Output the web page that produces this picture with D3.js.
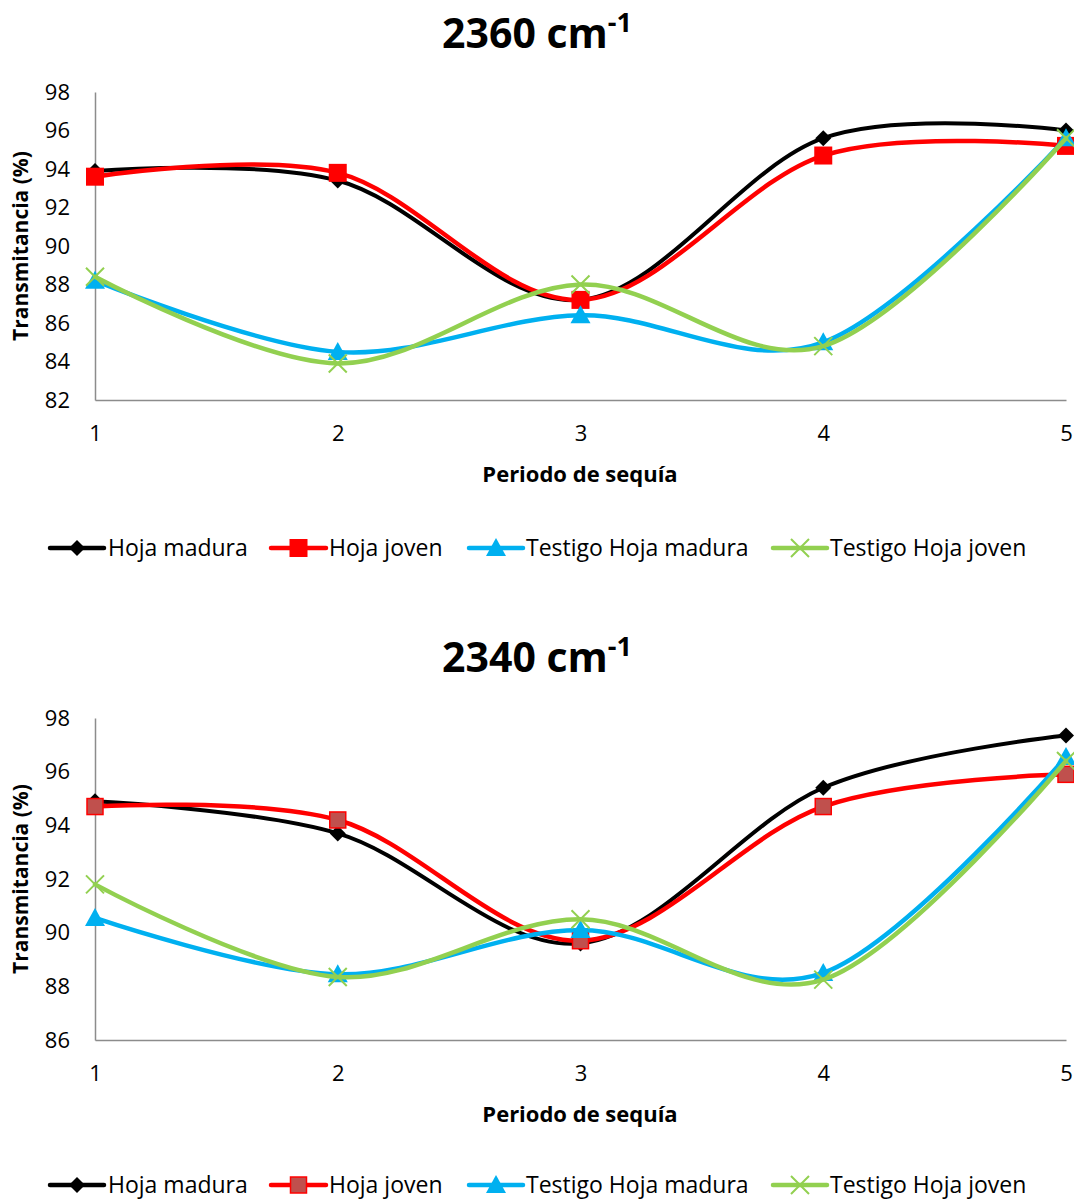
<!DOCTYPE html>
<html><head><meta charset="utf-8">
<script src="https://cdn.jsdelivr.net/npm/d3@7"></script>
<style>body{margin:0;background:#fff}svg{display:block;font-family:"Open Sans","Noto Sans",sans-serif}</style>
</head><body>
<svg id="c" width="1074" height="1201"></svg>
<script>
const periods = [1, 2, 3, 4, 5];
const seriesNames = ["Hoja madura", "Hoja joven", "Testigo Hoja madura", "Testigo Hoja joven"];
// 2360 cm-1
const top_hojaMadura = [93.9, 93.4, 87.2, 95.6, 96.0];
const top_hojaJoven = [93.6, 93.8, 87.2, 94.7, 95.2];
const top_testigoMadura = [88.2, 84.5, 86.4, 85.0, 95.6];
const top_testigoJoven = [88.4, 83.9, 88.0, 84.8, 95.6];
const top_yTicks = [82, 84, 86, 88, 90, 92, 94, 96, 98];
// 2340 cm-1
const bot_hojaMadura = [94.9, 93.7, 89.6, 95.4, 97.35];
const bot_hojaJoven = [94.7, 94.2, 89.7, 94.7, 95.9];
const bot_testigoMadura = [90.55, 88.45, 90.1, 88.5, 96.55];
const bot_testigoJoven = [91.8, 88.35, 90.5, 88.25, 96.4];
const bot_yTicks = [86, 88, 90, 92, 94, 96, 98];

const svg = d3.select("#c");
const styles = [
  {color:"#000000", marker:"diamond"},
  {color:"#FF0000", marker:"square"},
  {color:"#00B0F0", marker:"triangle"},
  {color:"#92D050", marker:"x"}
];

function drawMarker(g, type, x, y, big, sqFill, sqStroke) {
  if (type === "diamond") {
    g.append("path").attr("transform", `translate(${x},${y})`)
      .attr("d", "M0,-8L8,0L0,8L-8,0Z").attr("fill", "#000");
  } else if (type === "square") {
    const s = big ? 9 : 8;
    g.append("rect").attr("x", x - s).attr("y", y - s).attr("width", 2*s).attr("height", 2*s)
      .attr("fill", sqFill).attr("stroke", sqStroke).attr("stroke-width", sqFill === sqStroke ? 0 : 1.5);
  } else if (type === "triangle") {
    g.append("path").attr("transform", `translate(${x},${y})`)
      .attr("d", "M0,-10L10,8L-10,8Z").attr("fill", "#00B0F0");
  } else {
    g.append("path").attr("transform", `translate(${x},${y})`)
      .attr("d", "M-9,-9L9,9M9,-9L-9,9").attr("stroke", "#92D050").attr("stroke-width", 2).attr("fill", "none");
  }
}

function chart(cfg) {
  const x = d3.scaleLinear().domain([1, 5]).range([95, 1066]);
  const y = d3.scaleLinear().domain(cfg.yDomain).range([cfg.bottom, cfg.top]);
  const g = svg.append("g");
  // title
  const t = g.append("text").attr("x", 537).attr("y", cfg.titleY).attr("text-anchor", "middle")
    .attr("font-size", 41).attr("font-weight", "bold").attr("fill", "#000");
  t.append("tspan").text(cfg.title + " cm");
  t.append("tspan").attr("dy", -16).attr("font-size", 27).text("-1");
  // axes
  const ya = g.append("g").attr("transform", `translate(95,0)`)
    .call(d3.axisLeft(y).tickValues(cfg.yTicks).tickSize(0).tickPadding(25).tickFormat(d3.format("d")));
  ya.select(".domain").attr("stroke", "#8c8c8c").attr("stroke-width", 1.5);
  ya.selectAll("text").attr("font-size", 22).attr("fill", "#000").attr("font-family", "Open Sans");
  const xa = g.append("g").attr("transform", `translate(0,${cfg.bottom})`)
    .call(d3.axisBottom(x).tickValues(periods).tickSize(0).tickPadding(25).tickFormat(d3.format("d")));
  xa.select(".domain").attr("stroke", "#8c8c8c").attr("stroke-width", 1.5);
  xa.selectAll("text").attr("font-size", 22).attr("fill", "#000").attr("font-family", "Open Sans");
  // axis titles
  g.append("text").attr("x", 580).attr("y", cfg.bottom + 82).attr("text-anchor", "middle")
    .attr("font-size", 22).attr("font-weight", "bold").text("Periodo de sequía");
  g.append("text").attr("transform", `translate(28,${(cfg.top + cfg.bottom)/2}) rotate(-90)`)
    .attr("text-anchor", "middle").attr("font-size", 21).attr("font-weight", "bold").text("Transmitancia (%)");
  // lines
  const line = d3.line().x((d, i) => x(periods[i])).y(d => y(d)).curve(d3.curveCardinal.tension(0));
  cfg.series.forEach((vals, si) => {
    const st = styles[si];
    g.append("path").attr("d", line(vals)).attr("fill", "none").attr("stroke", st.color)
      .attr("stroke-width", si === 0 ? 4 : 4.5).attr("stroke-linecap", "round");
    vals.forEach((v, i) => drawMarker(g, st.marker, x(periods[i]), y(v), cfg.bigSq, cfg.sqFill, "#FF0000"));
  });
  // legend
  const lg = g.append("g");
  const items = [
    {lx1: 50, lx2: 104, tx: 108},
    {lx1: 271, lx2: 326, tx: 329},
    {lx1: 469, lx2: 523, tx: 526},
    {lx1: 773, lx2: 827, tx: 830}
  ];
  items.forEach((it, si) => {
    const st = styles[si];
    lg.append("line").attr("x1", it.lx1).attr("x2", it.lx2).attr("y1", cfg.legendY).attr("y2", cfg.legendY)
      .attr("stroke", st.color).attr("stroke-width", 4.5).attr("stroke-linecap", "round");
    drawMarker(lg, st.marker, (it.lx1 + it.lx2)/2, cfg.legendY, cfg.bigSq, cfg.sqFill, "#FF0000");
    lg.append("text").attr("x", it.tx).attr("y", cfg.legendY + 8).attr("font-size", 23)
      .attr("fill", "#000").text(seriesNames[si]);
  });
}

chart({title: "2360", titleY: 48, top: 92, bottom: 400, yDomain: [82, 98], yTicks: top_yTicks,
  series: [top_hojaMadura, top_hojaJoven, top_testigoMadura, top_testigoJoven],
  legendY: 548, bigSq: true, sqFill: "#FF0000"});
chart({title: "2340", titleY: 672, top: 718, bottom: 1040, yDomain: [86, 98], yTicks: bot_yTicks,
  series: [bot_hojaMadura, bot_hojaJoven, bot_testigoMadura, bot_testigoJoven],
  legendY: 1185, bigSq: false, sqFill: "#C0504D"});
</script>
</body></html>
